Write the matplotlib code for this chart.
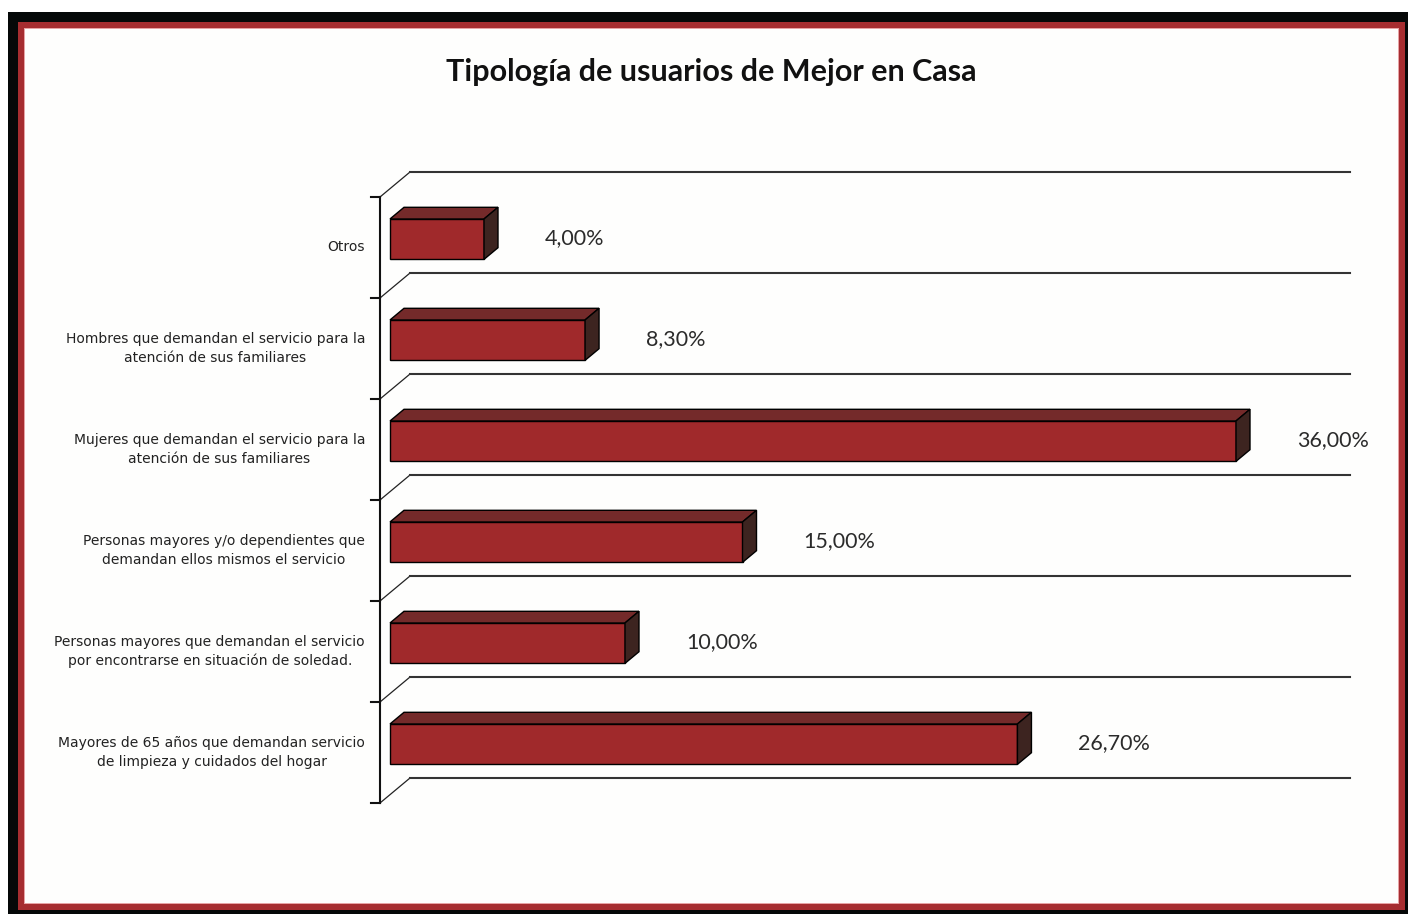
import numpy as np
import matplotlib
matplotlib.use("Agg")
import matplotlib.pyplot as plt
from matplotlib.patches import Rectangle, Polygon

categorias = [
    "Otros",
    "Hombres que demandan el servicio para la\natención de sus familiares",
    "Mujeres que demandan el servicio para la\natención de sus familiares",
    "Personas mayores y/o dependientes que\ndemandan ellos mismos el servicio",
    "Personas mayores que demandan el servicio\npor encontrarse en situación de soledad.",
    "Mayores de 65 años que demandan servicio\nde limpieza y cuidados del hogar",
]
valores = [4.00, 8.30, 36.00, 15.00, 10.00, 26.70]
etiquetas = ["4,00%", "8,30%", "36,00%", "15,00%", "10,00%", "26,70%"]
xmax = 40

W, H = 1408, 914
fig = plt.figure(figsize=(W / 100, H / 100), dpi=100)
fig.patch.set_facecolor("white")

# marco negro / rojo
def rect_px(x0, y0, x1, y1, color, z):
    fig.patches.append(Rectangle((x0 / W, 1 - y1 / H), (x1 - x0) / W, (y1 - y0) / H,
                                 transform=fig.transFigure, facecolor=color,
                                 edgecolor="none", zorder=z))

rect_px(8, 12, 1408, 914, "#050808", -5)
rect_px(18, 22, 1405, 910, "#a62d30", -4)
rect_px(24, 28, 1399, 904, "#e7a3a5", -3)
rect_px(25, 29, 1398, 903, "#fefefd", -2)

# ejes: x en %, y en categorías (plano frontal)
px_x = 23.5     # px por %
px_y = 101.0    # px por categoría
x0_px = 380
y0_px = 247.5
ax = fig.add_axes([0, 0, 1, 1])
ax.set_xlim(-x0_px / px_x, (W - x0_px) / px_x)
ax.set_ylim((H - y0_px) / px_y, -y0_px / px_y)
ax.axis("off")

Dx = 30 / px_x   # profundidad
Dy = -25 / px_y
f1, f2 = 1 / 3, 0.8
n = len(categorias)

# paredes / rejilla
for k in range(n + 1):
    yk = k - 0.5
    ax.plot([0, Dx], [yk, yk + Dy], color="#222222", lw=0.9, zorder=1)
    ax.plot([Dx, xmax + Dx], [yk + Dy, yk + Dy], color="#333333", lw=1.5, zorder=1)
    ax.plot([-9 / px_x, 0], [yk, yk], color="#111111", lw=1.5, zorder=1)
ax.plot([0, 0], [-0.5, n - 0.5], color="#111111", lw=1.5, zorder=1)

# barras 3D
alto = 0.40
frente, techo, lado = "#a0292b", "#742a2a", "#3d2420"
for i, v in enumerate(valores):
    xa = f1 * Dx
    yc = i + f1 * Dy
    ax.barh(yc, v, left=xa, height=alto, color=frente, edgecolor="black",
            linewidth=1.0, zorder=3)
    dx, dy = (f2 - f1) * Dx, (f2 - f1) * Dy
    top = yc - alto / 2
    bot = yc + alto / 2
    ax.add_patch(Polygon([(xa, top), (xa + dx, top + dy), (xa + v + dx, top + dy), (xa + v, top)],
                         closed=True, facecolor=techo, edgecolor="black", lw=1.0, zorder=3))
    ax.add_patch(Polygon([(xa + v, top), (xa + v + dx, top + dy), (xa + v + dx, bot + dy), (xa + v, bot)],
                         closed=True, facecolor=lado, edgecolor="black", lw=1.0, zorder=3))
    ax.text(xa + v + 61 / px_x, yc - 0.01, etiquetas[i], fontsize=15.5, family="Lato",
            color="#2b2b2b", ha="left", va="center", zorder=4)
    ax.text(-15 / px_x, i, categorias[i], fontsize=10, family="DejaVu Sans",
            color="#222222", ha="right", va="center", multialignment="center",
            linespacing=1.45, zorder=4)

fig.text(711 / W, 1 - 72 / H, "Tipología de usuarios de Mejor en Casa", fontsize=22,
         family="Lato", fontweight="bold", color="#111111", ha="center", va="center")

fig.savefig("out.png", dpi=100)
